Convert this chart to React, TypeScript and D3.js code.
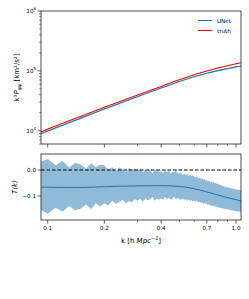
import React from "react";
import * as d3 from "d3";

// ---- data ----
const kTop = [0.092, 0.1, 0.12, 0.15, 0.2, 0.25, 0.3, 0.4, 0.5, 0.6, 0.7, 0.8, 0.9, 1.0, 1.07];
const truthP = [9600, 10630, 13280, 17400, 24570, 31960, 39490, 55000, 71000, 86000, 99500, 111500, 122000, 131500, 137500];
const unetP = [8970, 9930, 12390, 16230, 23000, 29980, 37080, 51700, 66530, 79810, 91140, 100800, 109070, 116510, 121000];
const unetSpread = [0.04, 0.04, 0.035, 0.03, 0.025, 0.02, 0.02, 0.02, 0.02, 0.02, 0.02, 0.02, 0.02, 0.02, 0.02];
const meanT = [-0.066, -0.066, -0.067, -0.067, -0.064, -0.062, -0.061, -0.06, -0.063, -0.072, -0.084, -0.096, -0.106, -0.114, -0.12];

const kBand = [
  0.09, 0.1, 0.11, 0.12, 0.13, 0.14, 0.15, 0.16, 0.17, 0.18, 0.19,
  0.2, 0.21, 0.22, 0.23, 0.24, 0.25, 0.26, 0.27, 0.28, 0.29,
  0.3, 0.31, 0.32, 0.33, 0.34, 0.35, 0.36, 0.37, 0.38, 0.39,
  0.4, 0.41, 0.42, 0.43, 0.44, 0.45, 0.46, 0.47, 0.48, 0.49,
  0.5, 0.51, 0.52, 0.53, 0.54, 0.55, 0.56, 0.57, 0.58, 0.59,
  0.6, 0.61, 0.62, 0.63, 0.64, 0.65, 0.66, 0.67, 0.68, 0.69,
  0.7, 0.71, 0.72, 0.73, 0.74, 0.75, 0.76, 0.77, 0.78, 0.79,
  0.8, 0.81, 0.82, 0.83, 0.84, 0.85, 0.86, 0.87, 0.88, 0.89,
  0.9, 0.91, 0.92, 0.93, 0.94, 0.95, 0.96, 0.97, 0.98, 0.99,
  1.0, 1.01, 1.02, 1.03, 1.04, 1.05, 1.06, 1.07,
];
const bandUpper = [
  0.03, 0.042, 0.018, 0.035, 0.01, 0.028, 0.02, 0.005, 0.026, 0.012, 0.02,
  0.018, 0.0, 0.012, -0.005, 0.01, 0.002, -0.008, 0.008, -0.002, 0.006,
  -0.004, 0.005, -0.01, 0.002, -0.006, 0.004, -0.012, -0.002, 0.003, -0.008,
  -0.004, -0.012, 0.0, -0.009, -0.003, -0.014, -0.006, -0.01, -0.002, -0.012,
  -0.014, -0.01, -0.02, -0.013, -0.019, -0.015, -0.022, -0.018, -0.024, -0.02,
  -0.026, -0.03, -0.025, -0.032, -0.029, -0.035, -0.031, -0.037, -0.034, -0.04,
  -0.038, -0.043, -0.041, -0.047, -0.044, -0.049, -0.046, -0.052, -0.049, -0.054,
  -0.053, -0.057, -0.055, -0.06, -0.058, -0.062, -0.06, -0.065, -0.062, -0.066,
  -0.065, -0.068, -0.066, -0.07, -0.068, -0.072, -0.07, -0.073, -0.071, -0.074,
  -0.073, -0.076, -0.074, -0.077, -0.075, -0.078, -0.076, -0.078,
];
const bandLower = [
  -0.15, -0.168, -0.145, -0.16, -0.138, -0.155, -0.148, -0.132, -0.15, -0.128, -0.14,
  -0.128, -0.135, -0.118, -0.13, -0.122, -0.115, -0.128, -0.119, -0.125, -0.112,
  -0.118, -0.11, -0.122, -0.108, -0.116, -0.112, -0.104, -0.118, -0.109, -0.114,
  -0.108, -0.114, -0.104, -0.111, -0.106, -0.115, -0.108, -0.103, -0.112, -0.107,
  -0.11, -0.115, -0.108, -0.116, -0.112, -0.118, -0.113, -0.119, -0.115, -0.121,
  -0.118, -0.122, -0.117, -0.125, -0.121, -0.127, -0.124, -0.13, -0.126, -0.131,
  -0.129, -0.134, -0.131, -0.137, -0.135, -0.139, -0.137, -0.142, -0.139, -0.144,
  -0.14, -0.145, -0.143, -0.147, -0.145, -0.149, -0.147, -0.151, -0.148, -0.152,
  -0.15, -0.153, -0.151, -0.155, -0.153, -0.156, -0.154, -0.157, -0.155, -0.158,
  -0.156, -0.159, -0.157, -0.16, -0.158, -0.161, -0.159, -0.162,
];

const xMajor = [0.1, 0.2, 0.4, 0.7, 1.0];
const xMajorLabels = ["0.1", "0.2", "0.4", "0.7", "1.0"];
const xMinor = [0.3, 0.5, 0.6, 0.8, 0.9];
const yTopMajor = [1e4, 1e5, 1e6];
const yTopExp = ["4", "5", "6"];
const yBotTicks = [0.0, -0.1];
const yBotLabels = ["0.0", "\u22120.1"];
const legendNames = ["UNet", "truth"];

const C0 = "#1f77b4";
const RED = "#ff0000";
const FONT = "DejaVu Sans, sans-serif";

export default function App() {
  const L = 41, R = 241;
  const t1 = 11, b1 = 144, t2 = 154, b2 = 220;
  const x = d3.scaleLog().domain([0.0921, 1.063]).range([L, R]);
  const yTop = d3.scaleLog().domain([6000, 1e6]).range([b1, t1]);
  const yBot = d3.scaleLinear().domain([-0.192, 0.0615]).range([b2, t2]);

  const idx = kTop.map((_, i) => i);
  const lineTruth = d3.line<number>().x(i => x(kTop[i])).y(i => yTop(truthP[i])).curve(d3.curveMonotoneX)(idx) || "";
  const lineUnet = d3.line<number>().x(i => x(kTop[i])).y(i => yTop(unetP[i])).curve(d3.curveMonotoneX)(idx) || "";
  const areaUnet = d3.area<number>().x(i => x(kTop[i]))
    .y0(i => yTop(unetP[i] * (1 - unetSpread[i])))
    .y1(i => yTop(unetP[i] * (1 + unetSpread[i])))
    .curve(d3.curveMonotoneX)(idx) || "";
  const lineMean = d3.line<number>().x(i => x(kTop[i])).y(i => yBot(meanT[i])).curve(d3.curveMonotoneX)(idx) || "";
  const bIdx = kBand.map((_, i) => i);
  const areaBand = d3.area<number>().x(i => x(kBand[i])).y0(i => yBot(bandLower[i])).y1(i => yBot(bandUpper[i]))(bIdx) || "";

  const yMinorTop: number[] = [];
  [1e3, 1e4, 1e5].forEach(d => { for (let m = 2; m <= 9; m++) { const v = d * m; if (v >= 6000 && v <= 1e6) yMinorTop.push(v); } });

  const axisColor = "#222";
  const tickW = 0.7;
  const fs = 5.6;

  const xTicks = (bottom: number, labels: boolean) => (
    <g>
      {xMajor.map((k, i) => (
        <g key={"M" + i}>
          <line x1={x(k)} x2={x(k)} y1={bottom} y2={bottom + 3.5} stroke={axisColor} strokeWidth={tickW} />
          {labels && <text x={x(k)} y={bottom + 10} fontSize={fs} textAnchor="middle" fontFamily={FONT}>{xMajorLabels[i]}</text>}
        </g>
      ))}
      {xMinor.map((k, i) => (
        <line key={"m" + i} x1={x(k)} x2={x(k)} y1={bottom} y2={bottom + 2} stroke={axisColor} strokeWidth={0.6} />
      ))}
    </g>
  );

  return (
    <svg width={249} height={299} style={{ position: "absolute", left: 0, top: 0 }} fontFamily={FONT}>
      <rect x={0} y={0} width={249} height={299} fill="#fff" />
      <defs>
        <clipPath id="c1"><rect x={L} y={t1} width={R - L} height={b1 - t1} /></clipPath>
        <clipPath id="c2"><rect x={L} y={t2} width={R - L} height={b2 - t2} /></clipPath>
      </defs>

      {/* top panel */}
      <g clipPath="url(#c1)">
        <path d={areaUnet} fill={C0} fillOpacity={0.35} stroke="none" />
        <path d={lineUnet} fill="none" stroke={C0} strokeWidth={1.1} />
        <path d={lineTruth} fill="none" stroke={RED} strokeWidth={1.1} />
      </g>
      <rect x={L} y={t1} width={R - L} height={b1 - t1} fill="none" stroke={axisColor} strokeWidth={0.8} />
      {yTopMajor.map((v, i) => (
        <g key={"yt" + i}>
          <line x1={L - 3.5} x2={L} y1={yTop(v)} y2={yTop(v)} stroke={axisColor} strokeWidth={tickW} />
          <text x={L - 5} y={yTop(v) + 2} fontSize={fs} textAnchor="end">
            10<tspan fontSize={4} dy={-2.6}>{yTopExp[i]}</tspan>
          </text>
        </g>
      ))}
      {yMinorTop.map((v, i) => (
        <line key={"ym" + i} x1={L - 2} x2={L} y1={yTop(v)} y2={yTop(v)} stroke={axisColor} strokeWidth={0.5} />
      ))}
      {xTicks(b1, false)}
      <text transform={`translate(19,${(t1 + b1) / 2}) rotate(-90)`} fontSize={7} textAnchor="middle">
        k³<tspan fontStyle="italic">P</tspan><tspan fontSize={5} dy={1.8} fontStyle="italic">ψψ</tspan><tspan dy={-1.8}> [km²/s²]</tspan>
      </text>
      {/* legend */}
      {legendNames.map((n, i) => (
        <g key={"lg" + i}>
          <line x1={198} x2={212} y1={20.5 + i * 10} y2={20.5 + i * 10} stroke={i === 0 ? C0 : RED} strokeWidth={1.1} />
          <text x={217} y={22.6 + i * 10} fontSize={fs}>{n}</text>
        </g>
      ))}

      {/* bottom panel */}
      <g clipPath="url(#c2)">
        <path d={areaBand} fill={C0} fillOpacity={0.5} stroke="none" />
        <path d={lineMean} fill="none" stroke={C0} strokeWidth={1} />
        <line x1={L} x2={R} y1={yBot(0)} y2={yBot(0)} stroke="#000" strokeWidth={1} strokeDasharray="3.5,2" />
      </g>
      <rect x={L} y={t2} width={R - L} height={b2 - t2} fill="none" stroke={axisColor} strokeWidth={0.8} />
      {yBotTicks.map((v, i) => (
        <g key={"yb" + i}>
          <line x1={L - 3.5} x2={L} y1={yBot(v)} y2={yBot(v)} stroke={axisColor} strokeWidth={tickW} />
          <text x={L - 5} y={yBot(v) + 2} fontSize={fs} textAnchor="end">{yBotLabels[i]}</text>
        </g>
      ))}
      {xTicks(b2, true)}
      <text transform={`translate(17,${(t2 + b2) / 2}) rotate(-90)`} fontSize={7} textAnchor="middle" fontStyle="italic">T(k)</text>
      <text x={(L + R) / 2} y={243} fontSize={7} textAnchor="middle">
        k [h <tspan fontStyle="italic">Mpc</tspan><tspan fontSize={5} dy={-2.6} fontStyle="italic">−1</tspan><tspan dy={2.6}>]</tspan>
      </text>
    </svg>
  );
}
